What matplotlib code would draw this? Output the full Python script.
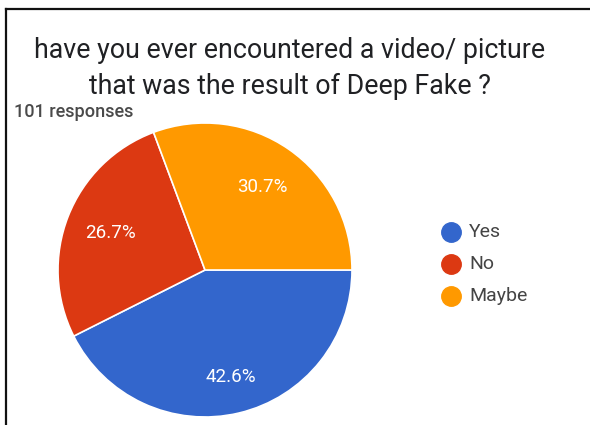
import numpy as np
import matplotlib
matplotlib.use("Agg")
import matplotlib.pyplot as plt
from matplotlib.lines import Line2D

categories = ["Yes", "No", "Maybe"]
counts = [43, 27, 31]
colors = ["#3366CC", "#DC3912", "#FF9900"]
title_lines = ["have you ever encountered a video/ picture",
               "that was the result of Deep Fake ?"]
responses_label = "101 responses"

plt.rcParams["font.family"] = ["Roboto", "DejaVu Sans"]

W, H = 590, 425
fig = plt.figure(figsize=(W / 100, H / 100), dpi=100)
fig.patch.set_facecolor("white")

# pie placed by pixel centre and radius
cx, cy, r = 205, 270, 147
ax = fig.add_axes([(cx - r) / W, (H - cy - r) / H, 2 * r / W, 2 * r / H])
wedges, texts, autotexts = ax.pie(
    counts, colors=colors, startangle=0, counterclock=False,
    autopct="%1.1f%%", pctdistance=0.69, radius=1,
    wedgeprops=dict(edgecolor="white", linewidth=1.2),
    textprops=dict(color="white", fontsize=13.5))
ax.set_xlim(-1, 1)
ax.set_ylim(-1, 1)
ax.set_aspect("auto")
ax.axis("off")

# the largest slice carries its label a little further out
big = int(np.argmax(counts))
w = wedges[big]
mid = np.deg2rad((w.theta1 + w.theta2) / 2)
autotexts[big].set_position((0.75 * np.cos(mid), 0.75 * np.sin(mid)))

# title and response count
fig.text(290 / W, 1 - 51 / H, title_lines[0], ha="center", va="center",
         fontsize=19.3, color="#202124")
fig.text(290 / W, 1 - 86 / H, title_lines[1], ha="center", va="center",
         fontsize=19.3, color="#202124")
fig.text(14 / W, 1 - 112 / H, responses_label, ha="left", va="center",
         fontsize=13, fontweight="medium", color="#4a4a4a")

# legend
for i, (cat, col) in enumerate(zip(categories, colors)):
    y = 1 - (232 + 32 * i) / H
    fig.add_artist(Line2D([451 / W], [y], marker="o", markersize=14,
                          markerfacecolor=col, markeredgecolor=col,
                          linestyle="none"))
    fig.text(469 / W, y, cat, ha="left", va="center", fontsize=14,
             color="#444444")

# frame lines
fig.add_artist(Line2D([6 / W, 1], [1 - 9 / H, 1 - 9 / H], color="#111111", lw=1.6))
fig.add_artist(Line2D([6 / W, 6 / W], [0, 1 - 9 / H], color="#111111", lw=1.6))

fig.savefig("out.png", dpi=100)
